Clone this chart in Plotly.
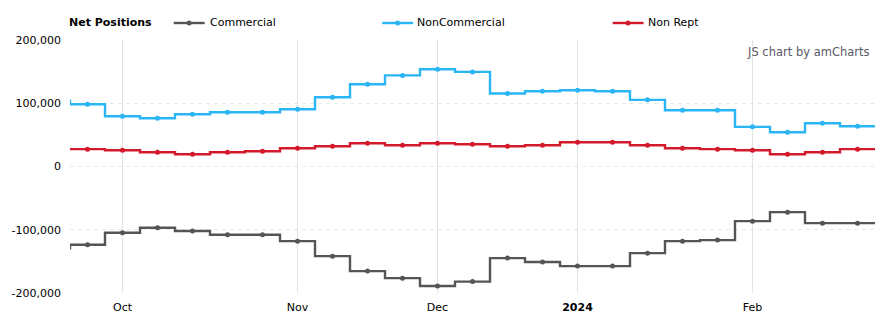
import plotly.graph_objects as go
from datetime import date

# ---- data (weekly report dates, first one is just left of the visible window) ----
dates = ["2023-09-19", "2023-09-26", "2023-10-03", "2023-10-10", "2023-10-17", "2023-10-24",
         "2023-10-31", "2023-11-07", "2023-11-14", "2023-11-21", "2023-11-28", "2023-12-05",
         "2023-12-12", "2023-12-19", "2023-12-26", "2024-01-02", "2024-01-09", "2024-01-16",
         "2024-01-23", "2024-01-30", "2024-02-06", "2024-02-13", "2024-02-20", "2024-02-27"]

commercial = [-129500, -123700, -104700, -96800, -102000, -107900, -107900, -118000,
              -141700, -165400, -176500, -189000, -182000, -144800, -151000, -157500,
              -157500, -137000, -118000, -116400, -86400, -72200, -89600, -89600]

noncommercial = [104000, 98400, 79500, 76300, 82600, 85800, 85800, 90500,
                 109500, 130000, 144000, 153700, 149600, 115300, 119000, 120500,
                 119000, 105400, 89000, 89000, 62700, 54200, 68400, 63700]

nonrept = [27400, 27400, 25800, 22600, 19400, 22600, 24200, 28900,
           32000, 36800, 33600, 36800, 35200, 32000, 33600, 38400,
           38400, 33600, 28900, 27400, 25800, 19400, 22600, 27400]

series_names = ["Commercial", "NonCommercial", "Non Rept"]
series_values = [commercial, noncommercial, nonrept]
series_colors = ["#555555", "#2ab5f5", "#d3192b"]

y_ticks = [-200000, -100000, 0, 100000, 200000]

# ---- derived positions (equal spacing per data item, like amCharts equalSpacing) ----
parsed = [date.fromisoformat(d) for d in dates]
n = len(parsed)
idx = list(range(n))

tick_idx, tick_txt = [], []
for i in range(1, n):
    if parsed[i].month != parsed[i - 1].month:
        tick_idx.append(i)
        if parsed[i].month == 1:
            tick_txt.append("<b>%d</b>" % parsed[i].year)
        else:
            tick_txt.append(parsed[i].strftime("%b"))

W, H = 890, 327
ML, MR, MT, MB = 68, 15, 40, 34
PW, PH = W - ML - MR, H - MT - MB

def px(x):
    return (x - ML) / PW

def py(y):
    return (H - MB - y) / PH

fig = go.Figure()

for name, vals, col in zip(series_names, series_values, series_colors):
    edges = [i - 0.5 for i in idx] + [n - 0.5]
    fig.add_trace(go.Scatter(x=edges, y=vals + [vals[-1]], mode="lines",
                             line=dict(color=col, width=2.4, shape="hv"),
                             name=name, showlegend=False, hoverinfo="skip"))
    fig.add_trace(go.Scatter(x=idx, y=vals, mode="markers",
                             marker=dict(color=col, size=5),
                             name=name, showlegend=False))

fig.update_xaxes(range=[0.5, n - 0.5], tickmode="array", tickvals=tick_idx,
                 ticktext=tick_txt, showgrid=True, gridcolor="#e2e2e2", gridwidth=1,
                 zeroline=False, showline=False, ticks="", ticklabelstandoff=6,
                 tickfont=dict(family="DejaVu Sans", size=11, color="#000"))

fig.update_yaxes(range=[-200000, 200000], tickmode="array", tickvals=y_ticks,
                 ticktext=[f"{v:,}" for v in y_ticks], showgrid=True,
                 gridcolor="#e8e8e8", gridwidth=1, griddash="4px,4px",
                 zeroline=False, showline=False, ticks="", ticklabelstandoff=8,
                 tickfont=dict(family="DejaVu Sans", size=11, color="#000"))

# legend (drawn manually to match amCharts spacing)
shapes = []
annotations = [dict(text="<b>Net Positions</b>", xref="paper", yref="paper",
                    x=px(68), y=py(23), xanchor="left", yanchor="middle", xshift=-2,
                    borderpad=0, showarrow=False,
                    font=dict(family="DejaVu Sans", size=11, color="#000"))]
leg_x = [(172, 203, 209), (381, 412, 417), (612, 643, 648)]
for (x0, x1, tx), name, col in zip(leg_x, series_names, series_colors):
    shapes.append(dict(type="line", xref="paper", yref="paper", x0=px(x0), x1=px(x1),
                       y0=py(23), y1=py(23), line=dict(color=col, width=2.4)))
    cx = (x0 + x1) / 2
    shapes.append(dict(type="circle", xref="paper", yref="paper",
                       x0=px(cx - 2.5), x1=px(cx + 2.5), y0=py(25.5), y1=py(20.5),
                       fillcolor=col, line=dict(color=col, width=0)))
    annotations.append(dict(text=name, xref="paper", yref="paper", x=px(tx), y=py(23),
                            xanchor="left", yanchor="middle", xshift=-2, borderpad=0,
                            showarrow=False,
                            font=dict(family="DejaVu Sans", size=11, color="#000")))

annotations.append(dict(text="JS chart by amCharts", xref="paper", yref="paper",
                        x=px(871), y=py(52), xanchor="right", yanchor="middle",
                        borderpad=0, showarrow=False,
                        font=dict(family="DejaVu Sans", size=11.5, color="#5a5a66")))

fig.update_layout(width=W, height=H, margin=dict(l=ML, r=MR, t=MT, b=MB),
                  plot_bgcolor="#ffffff", paper_bgcolor="#ffffff",
                  shapes=shapes, annotations=annotations, showlegend=False,
                  font=dict(family="DejaVu Sans", size=11, color="#000"))

fig.write_html("out.html")
